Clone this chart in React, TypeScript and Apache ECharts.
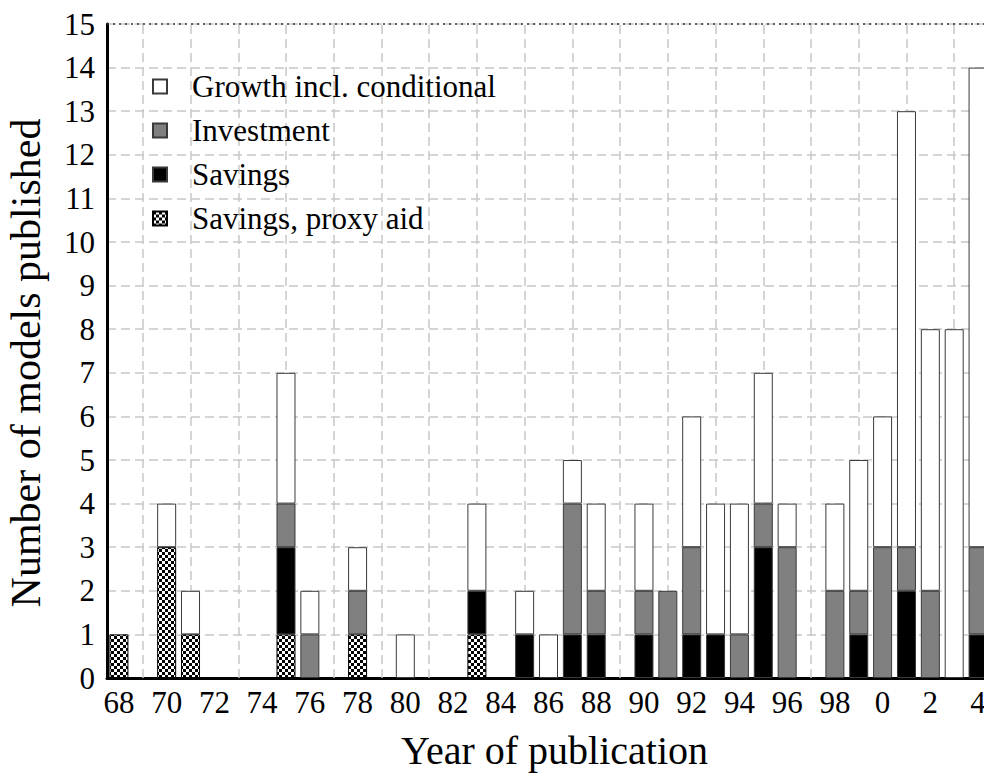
import React, { useEffect, useRef } from "react";
import * as echarts from "echarts";

const years = ["68","69","70","71","72","73","74","75","76","77","78","79","80","81","82","83","84","85","86","87","88","89","90","91","92","93","94","95","96","97","98","99","0","1","2","3","4"];
const proxyAid = [1,0,3,1,0,0,0,1,0,0,1,0,0,0,0,1,0,0,0,0,0,0,0,0,0,0,0,0,0,0,0,0,0,0,0,0,0];
const savings = [0,0,0,0,0,0,0,2,0,0,0,0,0,0,0,1,0,1,0,1,1,0,1,0,1,1,0,3,0,0,0,1,0,2,0,0,1];
const investment = [0,0,0,0,0,0,0,1,1,0,1,0,0,0,0,0,0,0,0,3,1,0,1,2,2,0,1,1,3,0,2,1,3,1,2,0,2];
const growth = [0,0,1,1,0,0,0,3,1,0,1,0,1,0,0,2,0,1,1,1,2,0,2,0,3,3,3,3,1,0,2,3,3,10,6,8,11];
const yTicks = { min: 0, max: 15, interval: 1 };
const seriesNames = ["Growth incl. conditional", "Investment", "Savings", "Savings, proxy aid"];

const FONT = "Liberation Serif";

function makeChecker() {
  const c = document.createElement("canvas");
  c.width = 6;
  c.height = 6;
  const ctx = c.getContext("2d")!;
  ctx.fillStyle = "#ffffff";
  ctx.fillRect(0, 0, 6, 6);
  ctx.fillStyle = "#000000";
  ctx.fillRect(0, 0, 3, 3);
  ctx.fillRect(3, 3, 3, 3);
  return c;
}

export default function App() {
  const ref = useRef<HTMLDivElement>(null);
  useEffect(() => {
    if (!ref.current) return;
    const chart = echarts.init(ref.current, null, { renderer: "svg" });
    const clean = (arr: number[]) => arr.map((v) => (v ? v : null));
    const border = { borderColor: "#3a3a3a", borderWidth: 1 };
    const gridLines = years
      .filter((_, i) => i % 2 === 1)
      .map((y) => ({ xAxis: y }));
    const option: any = {
      animation: false,
      backgroundColor: "#ffffff",
      grid: {
        left: 107,
        right: 0,
        top: 24,
        bottom: 95,
        containLabel: false,
        outerBoundsMode: "none",
      },
      legend: {
        orient: "vertical",
        left: 152,
        top: 71,
        padding: 0,
        itemWidth: 14,
        itemHeight: 14,
        itemGap: 13,
        icon: "rect",
        data: seriesNames,
        textStyle: {
          fontFamily: FONT,
          fontSize: 31,
          color: "#000",
          lineHeight: 30,
          padding: [0, 0, 0, 20],
        },
      },
      xAxis: {
        type: "category",
        data: years,
        boundaryGap: true,
        axisLine: { lineStyle: { color: "#000", width: 3 } },
        axisTick: {
          alignWithLabel: true,
          interval: 0,
          length: 4,
          lineStyle: { color: "#aaa", width: 1 },
        },
        axisLabel: {
          interval: 1,
          fontFamily: FONT,
          fontSize: 31,
          color: "#000",
          margin: 9,
        },
        splitLine: { show: false },
        name: "Year of publication",
        nameLocation: "middle",
        nameGap: 52,
        nameTextStyle: {
          fontFamily: FONT,
          fontSize: 40,
          color: "#000",
          padding: [0, 0, 0, 12],
        },
      },
      yAxis: {
        type: "value",
        min: yTicks.min,
        max: yTicks.max,
        interval: yTicks.interval,
        axisLine: { show: true, lineStyle: { color: "#000", width: 3 } },
        axisTick: { show: false },
        axisLabel: { fontFamily: FONT, fontSize: 31, color: "#000", margin: 12 },
        splitLine: { show: true, lineStyle: { color: "#c8c8c8", type: [9, 5], width: 1.5 } },
        name: "Number of models published",
        nameLocation: "middle",
        nameGap: 60,
        nameTextStyle: {
          fontFamily: FONT,
          fontSize: 42,
          color: "#000",
          padding: [0, 24, 0, 0],
        },
      },
      series: [
        {
          name: "Savings, proxy aid",
          type: "bar",
          stack: "total",
          barWidth: 19,
          z: 10,
          data: clean(proxyAid),
          itemStyle: { color: { image: makeChecker(), repeat: "repeat" }, borderColor: "#000", borderWidth: 1 },
          markLine: {
            z: 1,
            silent: true,
            symbol: "none",
            label: { show: false },
            lineStyle: { color: "#c8c8c8", type: [9, 5], width: 1.5 },
            data: gridLines,
          },
        },
        {
          name: "Savings",
          type: "bar",
          stack: "total",
          barWidth: 19,
          z: 10,
          data: clean(savings),
          itemStyle: { color: "#000000", ...border },
          markLine: {
            z: 11,
            silent: true,
            symbol: "none",
            label: { show: false },
            lineStyle: { color: "#333", type: [2, 4], width: 1.5 },
            data: [{ yAxis: yTicks.max }],
          },
        },
        {
          name: "Investment",
          type: "bar",
          stack: "total",
          barWidth: 19,
          z: 10,
          data: clean(investment),
          itemStyle: { color: "#808080", ...border },
        },
        {
          name: "Growth incl. conditional",
          type: "bar",
          stack: "total",
          barWidth: 19,
          z: 10,
          data: clean(growth),
          itemStyle: { color: "#ffffff", ...border },
        },
      ],
    };
    chart.setOption(option);
    return () => chart.dispose();
  }, []);
  return (
    <div
      ref={ref}
      style={{ position: "fixed", left: 0, top: 0, width: 990, height: 773 }}
    />
  );
}
